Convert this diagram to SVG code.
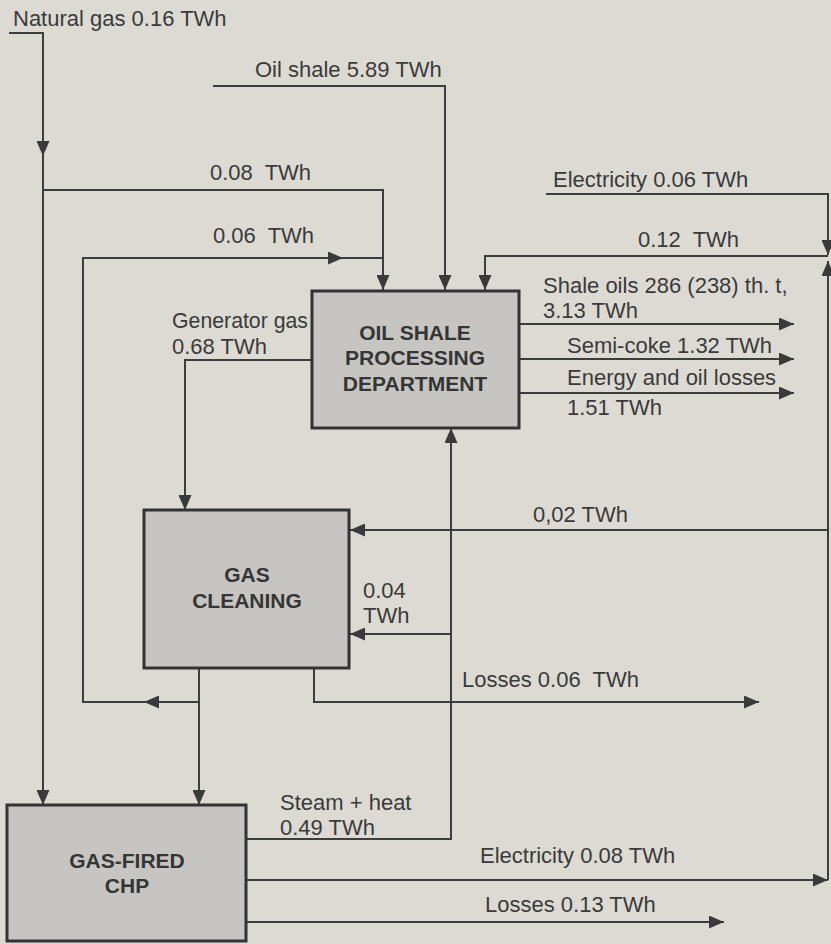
<svg xmlns="http://www.w3.org/2000/svg" width="831" height="944" viewBox="0 0 831 944">
<style>
.ln{fill:none;stroke:#3d3d3d;stroke-width:2}
.ar{marker-end:url(#ah)}
.box{fill:#c7c5c1;stroke:#333;stroke-width:3}
.bt{font-family:"Liberation Sans",Arial,sans-serif;font-size:21px;font-weight:bold;fill:#353535;text-anchor:middle}
.lb{font-family:"Liberation Sans",Arial,sans-serif;font-size:22px;fill:#3a3a3a}
</style>
<defs>
<marker id="ah" markerUnits="userSpaceOnUse" markerWidth="15" markerHeight="13" refX="15" refY="6.5" orient="auto">
<path d="M0,0 L15,6.5 L0,13 z" fill="#3a3a3a"/>
</marker>
</defs>
<rect x="0" y="0" width="831" height="944" fill="#dddad4"/>
<g id="connectors">
<path class="ln ar" d="M9,33 H43 V156"/>
<path class="ln ar" d="M43,156 V805"/>
<path class="ln ar" d="M43,190 H383 V290"/>
<path class="ln ar" d="M213,86 H445 V290"/>
<path class="ln ar" d="M199,668 V805"/>
<path class="ln ar" d="M199,702 H144"/>
<path class="ln ar" d="M144,702 H83 V258 H343"/>
<path class="ln" d="M343,258 H383"/>
<path class="ln ar" d="M546,194 H828 V255"/>
<path class="ln ar" d="M246,880 H828"/>
<path class="ln ar" d="M828,880 V261"/>
<path class="ln ar" d="M828,256 H485 V290"/>
<path class="ln ar" d="M828,530 H350"/>
<path class="ln ar" d="M246,839 H451 V428"/>
<path class="ln ar" d="M451,634 H350"/>
<path class="ln ar" d="M314,668 V702 H759"/>
<path class="ln ar" d="M519,324 H794"/>
<path class="ln ar" d="M519,359 H794"/>
<path class="ln ar" d="M519,393 H794"/>
<path class="ln ar" d="M312,360 H185 V510"/>
<path class="ln ar" d="M246,922 H724"/>
</g>
<g id="labels">
<text class="lb" x="13" y="26">Natural gas 0.16 TWh</text>
<text class="lb" x="255" y="77">Oil shale 5.89 TWh</text>
<text class="lb" x="210" y="180" xml:space="preserve">0.08  TWh</text>
<text class="lb" x="213" y="243" xml:space="preserve">0.06  TWh</text>
<text class="lb" x="553" y="187">Electricity 0.06 TWh</text>
<text class="lb" x="638" y="247" xml:space="preserve">0.12  TWh</text>
<text class="lb" x="543" y="293">Shale oils 286 (238) th. t,</text>
<text class="lb" x="543" y="318">3.13 TWh</text>
<text class="lb" x="567" y="353">Semi-coke 1.32 TWh</text>
<text class="lb" x="567" y="385">Energy and oil losses</text>
<text class="lb" x="567" y="415">1.51 TWh</text>
<text class="lb" x="172" y="328" textLength="136" lengthAdjust="spacingAndGlyphs">Generator gas</text>
<text class="lb" x="172" y="354">0.68 TWh</text>
<text class="lb" x="533" y="522">0,02 TWh</text>
<text class="lb" x="363" y="598">0.04</text>
<text class="lb" x="363" y="623">TWh</text>
<text class="lb" x="462" y="687" xml:space="preserve">Losses 0.06  TWh</text>
<text class="lb" x="280" y="810">Steam + heat</text>
<text class="lb" x="280" y="835">0.49 TWh</text>
<text class="lb" x="480" y="863">Electricity 0.08 TWh</text>
<text class="lb" x="485" y="912">Losses 0.13 TWh</text>
</g>
<g id="ospd">
<rect class="box" x="312" y="291" width="207" height="137"/>
<text class="bt" x="415" y="340">OIL SHALE</text>
<text class="bt" x="415" y="365">PROCESSING</text>
<text class="bt" x="415" y="391">DEPARTMENT</text>
</g>
<g id="gas-cleaning">
<rect class="box" x="144" y="510" width="205" height="158"/>
<text class="bt" x="247" y="582">GAS</text>
<text class="bt" x="247" y="608">CLEANING</text>
</g>
<g id="chp">
<rect class="box" x="7" y="805" width="239" height="136"/>
<text class="bt" x="127" y="868">GAS-FIRED</text>
<text class="bt" x="127" y="893">CHP</text>
</g>
</svg>
